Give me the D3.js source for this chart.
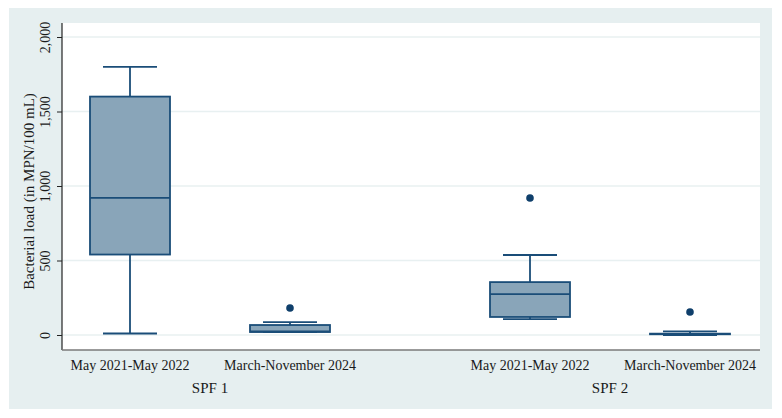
<!DOCTYPE html>
<html><head><meta charset="utf-8">
<script src="https://cdn.jsdelivr.net/npm/d3@7"></script>
<style>body{margin:0;background:#fff}svg{display:block}text{font-family:"Liberation Serif","DejaVu Serif",serif;fill:#1a1a1a}</style>
</head><body><svg id="c" width="782" height="418"></svg>
<script>
const groups = ["SPF 1", "SPF 2"];
const periods = ["May 2021-May 2022", "March-November 2024"];
const boxGroup = ["SPF 1", "SPF 1", "SPF 2", "SPF 2"];
const boxPeriod = ["May 2021-May 2022", "March-November 2024", "May 2021-May 2022", "March-November 2024"];
const lowerW = [10, 20, 107, 0];
const q1 = [540, 20, 121, 5];
const median = [920, 24, 275, 7];
const q3 = [1600, 67, 355, 9];
const upperW = [1800, 87, 537, 25];
const outliers = [[], [181], [919], [154]];
const yTicks = [0, 500, 1000, 1500, 2000];

const svg = d3.select("#c");
svg.append("rect").attr("x", 9).attr("y", 8).attr("width", 763).attr("height", 401).attr("fill", "#e6eff0");
const pl = 62, pr = 760, pt = 23, pb = 350;
svg.append("rect").attr("x", pl).attr("y", pt).attr("width", pr - pl).attr("height", pb - pt).attr("fill", "#fff");

const y = d3.scaleLinear().domain([0, 2000]).range([335, 37]);
const xg = d3.scalePoint().domain(groups).range([210, 610]);
const xp = d3.scalePoint().domain(periods).range([-80, 80]);
const cx = (g, p) => xg(g) + xp(p);

svg.append("g").selectAll("line").data(yTicks).join("line")
  .attr("x1", pl).attr("x2", pr).attr("y1", d => y(d)).attr("y2", d => y(d))
  .attr("stroke", "#e8f0f1").attr("stroke-width", 1.6);

const ya = svg.append("g").attr("transform", `translate(${pl},0)`)
  .call(d3.axisLeft(y).tickValues(yTicks).tickFormat(d3.format(",")).tickSize(5).tickPadding(6));
ya.select(".domain").attr("d", `M0,${pt}V${pb}`).attr("stroke", "#222").attr("stroke-width", 1.2);
ya.selectAll(".tick line").attr("stroke", "#222");
ya.selectAll(".tick text").attr("font-size", 14).attr("font-family", "Liberation Serif")
  .attr("text-anchor", "middle").attr("x", 0).attr("dy", "0.35em").attr("fill", "#1a1a1a")
  .attr("transform", "translate(-17,0) rotate(-90)");

svg.append("line").attr("x1", pl).attr("x2", pr).attr("y1", pb).attr("y2", pb).attr("stroke", "#7a7a7a").attr("stroke-width", 1.6);

svg.append("text").attr("transform", `translate(34,${(pt + pb) / 2 + 5}) rotate(-90)`).attr("text-anchor", "middle")
  .attr("font-size", 15).text("Bacterial load (in MPN/100 mL)");

const navy = "#1a4d78";
const fill = "#89a5b9";
const boxW = 80, capW = 54;
boxGroup.forEach((g, i) => {
  const c = cx(g, boxPeriod[i]);
  const gg = svg.append("g");
  gg.append("line").attr("x1", c).attr("x2", c).attr("y1", y(upperW[i])).attr("y2", y(q3[i])).attr("stroke", navy).attr("stroke-width", 1.8);
  gg.append("line").attr("x1", c).attr("x2", c).attr("y1", y(q1[i])).attr("y2", y(lowerW[i])).attr("stroke", navy).attr("stroke-width", 1.8);
  gg.append("line").attr("x1", c - capW / 2).attr("x2", c + capW / 2).attr("y1", y(upperW[i])).attr("y2", y(upperW[i])).attr("stroke", navy).attr("stroke-width", 1.8);
  gg.append("line").attr("x1", c - capW / 2).attr("x2", c + capW / 2).attr("y1", y(lowerW[i])).attr("y2", y(lowerW[i])).attr("stroke", navy).attr("stroke-width", 1.8);
  gg.append("rect").attr("x", c - boxW / 2).attr("y", y(q3[i])).attr("width", boxW).attr("height", Math.max(0.5, y(q1[i]) - y(q3[i])))
    .attr("fill", fill).attr("stroke", navy).attr("stroke-width", 1.8);
  gg.append("line").attr("x1", c - boxW / 2).attr("x2", c + boxW / 2).attr("y1", y(median[i])).attr("y2", y(median[i])).attr("stroke", navy).attr("stroke-width", 1.8);
  gg.selectAll("circle").data(outliers[i]).join("circle").attr("cx", c).attr("cy", d => y(d)).attr("r", 3.8).attr("fill", "#0f3f6b");
  svg.append("text").attr("x", c).attr("y", 370).attr("text-anchor", "middle").attr("font-size", 14).text(boxPeriod[i]);
});
groups.forEach(g => {
  svg.append("text").attr("x", xg(g)).attr("y", 393).attr("text-anchor", "middle").attr("font-size", 15).text(g);
});
</script></body></html>
